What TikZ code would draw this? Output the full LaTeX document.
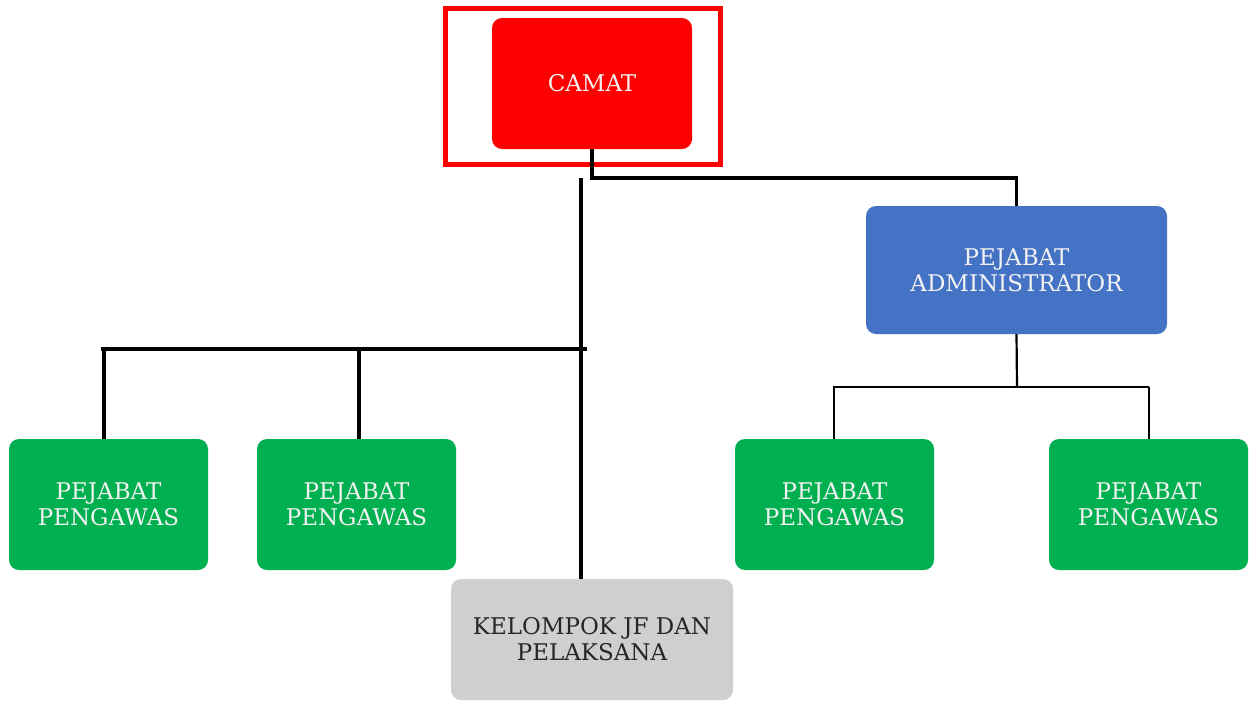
\documentclass[tikz,border=0pt]{standalone}
\usepackage{fontspec}
\setmainfont{DejaVu Serif}
\begin{document}
\begin{tikzpicture}[x=1pt,y=-1pt,
  box/.style={rectangle, rounded corners=10pt, draw=none, align=center,
    font=\fontsize{23}{26}\selectfont, inner sep=0pt},
  redbox/.style={box, fill=red, text=white!95!black, minimum width=200pt, minimum height=131pt},
  bluebox/.style={box, fill={rgb,255:red,68;green,114;blue,196}, text=white!95!black, minimum width=301pt, minimum height=128pt},
  greenbox/.style={box, fill={rgb,255:red,0;green,176;blue,80}, text=white!95!black, minimum width=199pt, minimum height=131pt},
  graybox/.style={box, fill={rgb,255:red,208;green,206;blue,206}, text=black!85, minimum width=282pt, minimum height=121pt},
  conn/.style={draw=black, line width=3.5pt},
  thinconn/.style={draw=black, line width=2.2pt}]
\useasboundingbox (0,0) rectangle (1249,702);
\fill[white] (0,0) rectangle (1249,702);
% outer red frame
\node[draw=red, line width=5pt, minimum width=275pt, minimum height=156pt, inner sep=0pt] (frame) at (583,86.5) {};
\node[redbox] (camat) at (592,83.5) {\raisebox{2pt}{CAMAT}};
\node[bluebox] (admin) at (1016.5,270) {PEJABAT\\ADMINISTRATOR};
\node[greenbox] (pw1) at (108.5,504.5) {PEJABAT\\PENGAWAS};
\node[greenbox] (pw2) at (356.5,504.5) {PEJABAT\\PENGAWAS};
\node[greenbox] (pw3) at (834.5,504.5) {PEJABAT\\PENGAWAS};
\node[greenbox] (pw4) at (1148.5,504.5) {PEJABAT\\PENGAWAS};
\node[graybox] (jf) at (592,639.5) {KELOMPOK JF DAN\\PELAKSANA};
% connectors
\coordinate (j1) at (592,178);
\coordinate (j2) at (581,178);
\coordinate (bl) at (101,349);
\coordinate (br) at (587,349);
\coordinate (t1) at (104,349);
\coordinate (t2) at (359,349);
\coordinate (ja) at (1017,387);
\coordinate (l3) at (834,387);
\coordinate (l4) at (1149,387);
\draw[conn] (camat.south) -- (j1) -| (admin.north);
\draw[conn] (j2) -- (j2 |- jf.north);
\draw[conn] (bl) -- (br);
\draw[conn] (t1) -- (t1 |- pw1.north);
\draw[conn] (t2) -- (t2 |- pw2.north);
\draw[thinconn] (admin.south) -- (ja);
\draw[thinconn] (l4) -- (l3) -- (l3 |- pw3.north);
\draw[thinconn] (l4) -- (l4 |- pw4.north);
\end{tikzpicture}
\end{document}
